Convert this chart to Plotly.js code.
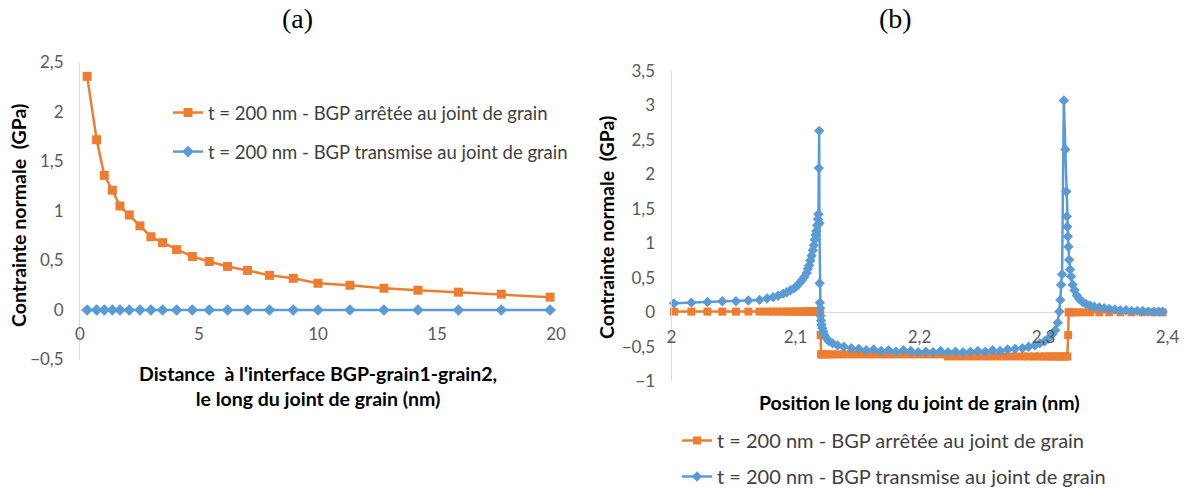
<!DOCTYPE html>
<html><head><meta charset="utf-8">
<script src="https://cdn.plot.ly/plotly-3.0.1.min.js"></script>
<style>html,body{margin:0;padding:0;background:#fff}#c{width:1184px;height:488px}</style>
</head><body><div id="c"></div>
<script>
// ---- Chart (a) data ----
const distA = [0.3, 0.7, 1.02, 1.36, 1.68, 2.07, 2.52, 2.98, 3.47, 4.06, 4.72, 5.43, 6.2, 7.04, 7.96, 8.96, 10.0, 11.34, 12.77, 14.2, 15.9, 17.7, 19.75];
const arreteeA = [2.36, 1.72, 1.36, 1.21, 1.05, 0.96, 0.85, 0.74, 0.68, 0.61, 0.54, 0.49, 0.44, 0.40, 0.35, 0.32, 0.27, 0.25, 0.22, 0.20, 0.18, 0.16, 0.13];
const transmiseA = [0, 0, 0, 0, 0, 0, 0, 0, 0, 0, 0, 0, 0, 0, 0, 0, 0, 0, 0, 0, 0, 0, 0];

// ---- Chart (b) data ----
const posTransB = [2.002, 2.016, 2.029, 2.041, 2.052, 2.062, 2.071, 2.077, 2.082, 2.086,
  2.090, 2.093, 2.096, 2.099, 2.101, 2.103, 2.105, 2.107, 2.109, 2.110,
  2.111, 2.112, 2.113, 2.114, 2.1148, 2.1155, 2.1162, 2.1168, 2.1175, 2.1181,
  2.1185, 2.1188, 2.1191, 2.1193, 2.1195, 2.1197, 2.1199, 2.1202, 2.1206, 2.1210,
  2.1216, 2.1224, 2.1234, 2.125, 2.127, 2.130, 2.134, 2.139, 2.145, 2.151,
  2.157, 2.163, 2.169, 2.175, 2.181, 2.187, 2.193, 2.199, 2.205, 2.211,
  2.217, 2.223, 2.229, 2.235, 2.241, 2.247, 2.253, 2.259, 2.265, 2.271,
  2.277, 2.283, 2.288, 2.293, 2.297, 2.301, 2.304, 2.307, 2.3095, 2.3115,
  2.3128, 2.3136, 2.3142, 2.3150, 2.3164, 2.3176, 2.3184, 2.3188, 2.3192, 2.3196,
  2.3201, 2.3207, 2.3214, 2.3222, 2.3235, 2.3250, 2.3270, 2.3290, 2.3315, 2.3343,
  2.3375, 2.3410, 2.3450, 2.3490, 2.3530, 2.3575, 2.3620, 2.3665, 2.3710, 2.3755,
  2.3800, 2.3845, 2.3890, 2.3930, 2.3960];
const transmiseB = [0.13, 0.14, 0.15, 0.16, 0.16, 0.17, 0.18, 0.20, 0.22, 0.24,
  0.27, 0.29, 0.32, 0.35, 0.38, 0.42, 0.46, 0.51, 0.57, 0.63,
  0.68, 0.75, 0.82, 0.90, 0.97, 1.05, 1.12, 1.18, 1.26, 1.35,
  1.42, 2.09, 2.63, 1.29, 0.42, 0.14, 0.06, -0.05, -0.12, -0.18,
  -0.23, -0.28, -0.33, -0.38, -0.42, -0.45, -0.48, -0.50, -0.52, -0.53,
  -0.55, -0.54, -0.56, -0.55, -0.57, -0.55, -0.56, -0.58, -0.57, -0.58,
  -0.56, -0.58, -0.57, -0.58, -0.57, -0.56, -0.57, -0.55, -0.56, -0.54,
  -0.53, -0.52, -0.50, -0.48, -0.45, -0.42, -0.38, -0.32, -0.26, -0.15,
  0.01, 0.18, 0.40, 0.55, 3.07, 2.36, 1.75, 1.39, 1.24, 1.10,
  0.95, 0.76, 0.62, 0.52, 0.40, 0.32, 0.24, 0.19, 0.15, 0.12,
  0.10, 0.08, 0.07, 0.06, 0.05, 0.04, 0.03, 0.03, 0.02, 0.02,
  0.02, 0.01, 0.01, 0.01, 0.01];

const posArretB = [2.002, 2.016, 2.029, 2.041, 2.052, 2.062, 2.071, 2.077, 2.082, 2.086,
  2.090, 2.093, 2.096, 2.099, 2.101, 2.103, 2.105, 2.107, 2.109, 2.110,
  2.111, 2.112, 2.113, 2.114, 2.1148, 2.1155, 2.1162, 2.1168, 2.1175, 2.1181,
  2.1185, 2.1188, 2.1191, 2.1193, 2.1195, 2.1197, 2.1199, 2.1203,
  2.1206, 2.1216, 2.1234, 2.127, 2.130, 2.134, 2.139, 2.145, 2.151, 2.157,
  2.163, 2.169, 2.175, 2.181, 2.187, 2.193, 2.199, 2.205, 2.211, 2.217,
  2.223, 2.229, 2.235, 2.241, 2.247, 2.253, 2.259, 2.265, 2.271, 2.277,
  2.283, 2.288, 2.293, 2.297, 2.301, 2.304, 2.307, 2.3095, 2.3115, 2.3136,
  2.3157, 2.3176, 2.3192, 2.3199, 2.3203,
  2.3214, 2.3235, 2.3270, 2.3315, 2.3375, 2.3450, 2.3530, 2.3620, 2.3710, 2.3800,
  2.3890, 2.3960];
const arreteeB = [0.01, 0.01, 0.01, 0.01, 0.01, 0.01, 0.01, 0.01, 0.01, 0.01,
  0.01, 0.01, 0.01, 0.01, 0.01, 0.01, 0.01, 0.01, 0.01, 0.01,
  0.01, 0.01, 0.01, 0.01, 0.01, 0.01, 0.01, 0.01, 0.01, 0.01,
  0.01, 0.01, 0.01, 0.01, 0.01, 0.01, 0.01, -0.33,
  -0.61, -0.61, -0.61, -0.61, -0.61, -0.61, -0.61, -0.61, -0.61, -0.61,
  -0.61, -0.61, -0.61, -0.61, -0.61, -0.61, -0.61, -0.61, -0.61, -0.61,
  -0.64, -0.64, -0.64, -0.64, -0.64, -0.64, -0.64, -0.64, -0.64, -0.64,
  -0.64, -0.64, -0.64, -0.64, -0.64, -0.64, -0.64, -0.64, -0.64, -0.64,
  -0.64, -0.64, -0.64, -0.33, 0.0,
  0.0, 0.0, 0.0, 0.0, 0.0, 0.0, 0.0, 0.0, 0.0, 0.0,
  0.0, 0.0];

const seriesNames = ["t = 200 nm - BGP arrêtée au joint de grain", "t = 200 nm - BGP transmise au joint de grain"];
const titleA = "Distance  à l'interface BGP-grain1-grain2,<br>le long du joint de grain (nm)";
const titleB = "Position le long du joint de grain (nm)";
const yTitle = "Contrainte normale  (GPa)";

const ORANGE = '#ED7D31', BLUE = '#5B9BD5';
const W = 1184, H = 488;
const px = v => v / W, py = v => 1 - v / H;
const FONT = 'Lato, "Open Sans", sans-serif';
const SERIF = '"Liberation Serif", "Times New Roman", serif';

const traces = [
  {x: distA, y: arreteeA, name: seriesNames[0], mode: 'lines+markers', xaxis: 'x', yaxis: 'y',
   line: {color: ORANGE, width: 2.5}, marker: {symbol: 'square', size: 9, color: ORANGE},
   legend: 'legend', legendgroup: 'a1', cliponaxis: false},
  {x: distA, y: transmiseA, name: seriesNames[1], mode: 'lines+markers', xaxis: 'x', yaxis: 'y',
   line: {color: BLUE, width: 2.5}, marker: {symbol: 'diamond', size: 9, color: BLUE},
   legend: 'legend', legendgroup: 'a2', cliponaxis: false},
  {x: posArretB, y: arreteeB, name: seriesNames[0], mode: 'lines+markers', xaxis: 'x2', yaxis: 'y2',
   line: {color: ORANGE, width: 2.5}, marker: {symbol: 'square', size: 8, color: ORANGE},
   legend: 'legend2', legendgroup: 'b1', cliponaxis: false},
  {x: posTransB, y: transmiseB, name: seriesNames[1], mode: 'lines+markers', xaxis: 'x2', yaxis: 'y2',
   line: {color: BLUE, width: 2.5}, marker: {symbol: 'diamond', size: 8, color: BLUE},
   legend: 'legend2', legendgroup: 'b2', cliponaxis: false}
];

const tickFont = {family: FONT, size: 17, color: '#595959'};
const boldFont = {family: FONT, size: 19.5, color: '#000', weight: 'bold'};

const layout = {
  width: W, height: H, margin: {l: 0, r: 0, t: 0, b: 0, autoexpand: false},
  paper_bgcolor: '#fff', plot_bgcolor: 'rgba(0,0,0,0)',
  separators: ', ',
  showlegend: true,
  xaxis: {domain: [px(80), px(556)], range: [0, 20], dtick: 5, tick0: 0,
    anchor: 'free', position: py(310), showline: false, showgrid: false, zeroline: false,
    ticks: '', tickfont: tickFont, ticklabelstandoff: 12, fixedrange: true},
  yaxis: {domain: [py(359.5), py(62.5)], range: [-0.5, 2.5], dtick: 0.5, tick0: 0,
    anchor: 'x', showline: true, linecolor: '#D9D9D9', linewidth: 1, showgrid: false,
    zeroline: true, zerolinecolor: '#D9D9D9', zerolinewidth: 1,
    ticks: '', tickfont: tickFont, ticklabelstandoff: 12, fixedrange: true},
  xaxis2: {domain: [px(671.5), px(1167.5)], range: [2, 2.4], dtick: 0.1, tick0: 2,
    anchor: 'free', position: py(312.3), showline: false, showgrid: false, zeroline: false,
    ticks: '', tickfont: tickFont, ticklabelstandoff: 13, fixedrange: true},
  yaxis2: {domain: [py(381.3), py(70.8)], range: [-1, 3.5], dtick: 0.5, tick0: 0,
    anchor: 'x2', showline: true, linecolor: '#D9D9D9', linewidth: 1, showgrid: false,
    zeroline: true, zerolinecolor: '#D9D9D9', zerolinewidth: 1,
    ticks: '', tickfont: tickFont, ticklabelstandoff: 12, fixedrange: true},
  legend: {x: px(168), y: py(94), xanchor: 'left', yanchor: 'top', bgcolor: 'rgba(0,0,0,0)',
    font: {family: FONT, size: 18.5, color: '#404040'}, traceorder: 'grouped', tracegroupgap: 12},
  legend2: {x: px(677), y: py(421), xanchor: 'left', yanchor: 'top', bgcolor: 'rgba(0,0,0,0)',
    font: {family: FONT, size: 20, color: '#404040'}, traceorder: 'grouped', tracegroupgap: 7},
  annotations: [
    {text: '(a)', x: px(297), y: py(19), xref: 'paper', yref: 'paper', showarrow: false,
     xanchor: 'center', yanchor: 'middle', font: {family: SERIF, size: 28, color: '#000'}},
    {text: '(b)', x: px(895), y: py(19), xref: 'paper', yref: 'paper', showarrow: false,
     xanchor: 'center', yanchor: 'middle', font: {family: SERIF, size: 28, color: '#000'}},
    {text: yTitle, x: px(18), y: py(216), xref: 'paper', yref: 'paper', showarrow: false,
     xanchor: 'center', yanchor: 'middle', textangle: -90, font: boldFont},
    {text: yTitle, x: px(607), y: py(228), xref: 'paper', yref: 'paper', showarrow: false,
     xanchor: 'center', yanchor: 'middle', textangle: -90, font: boldFont},
    {text: titleA, x: px(318), y: py(386), xref: 'paper', yref: 'paper', showarrow: false,
     xanchor: 'center', yanchor: 'middle', font: boldFont, align: 'center'},
    {text: titleB, x: px(920), y: py(402), xref: 'paper', yref: 'paper', showarrow: false,
     xanchor: 'center', yanchor: 'middle', font: boldFont}
  ]
};

Plotly.newPlot('c', traces, layout, {displayModeBar: false, staticPlot: true});
</script></body></html>
